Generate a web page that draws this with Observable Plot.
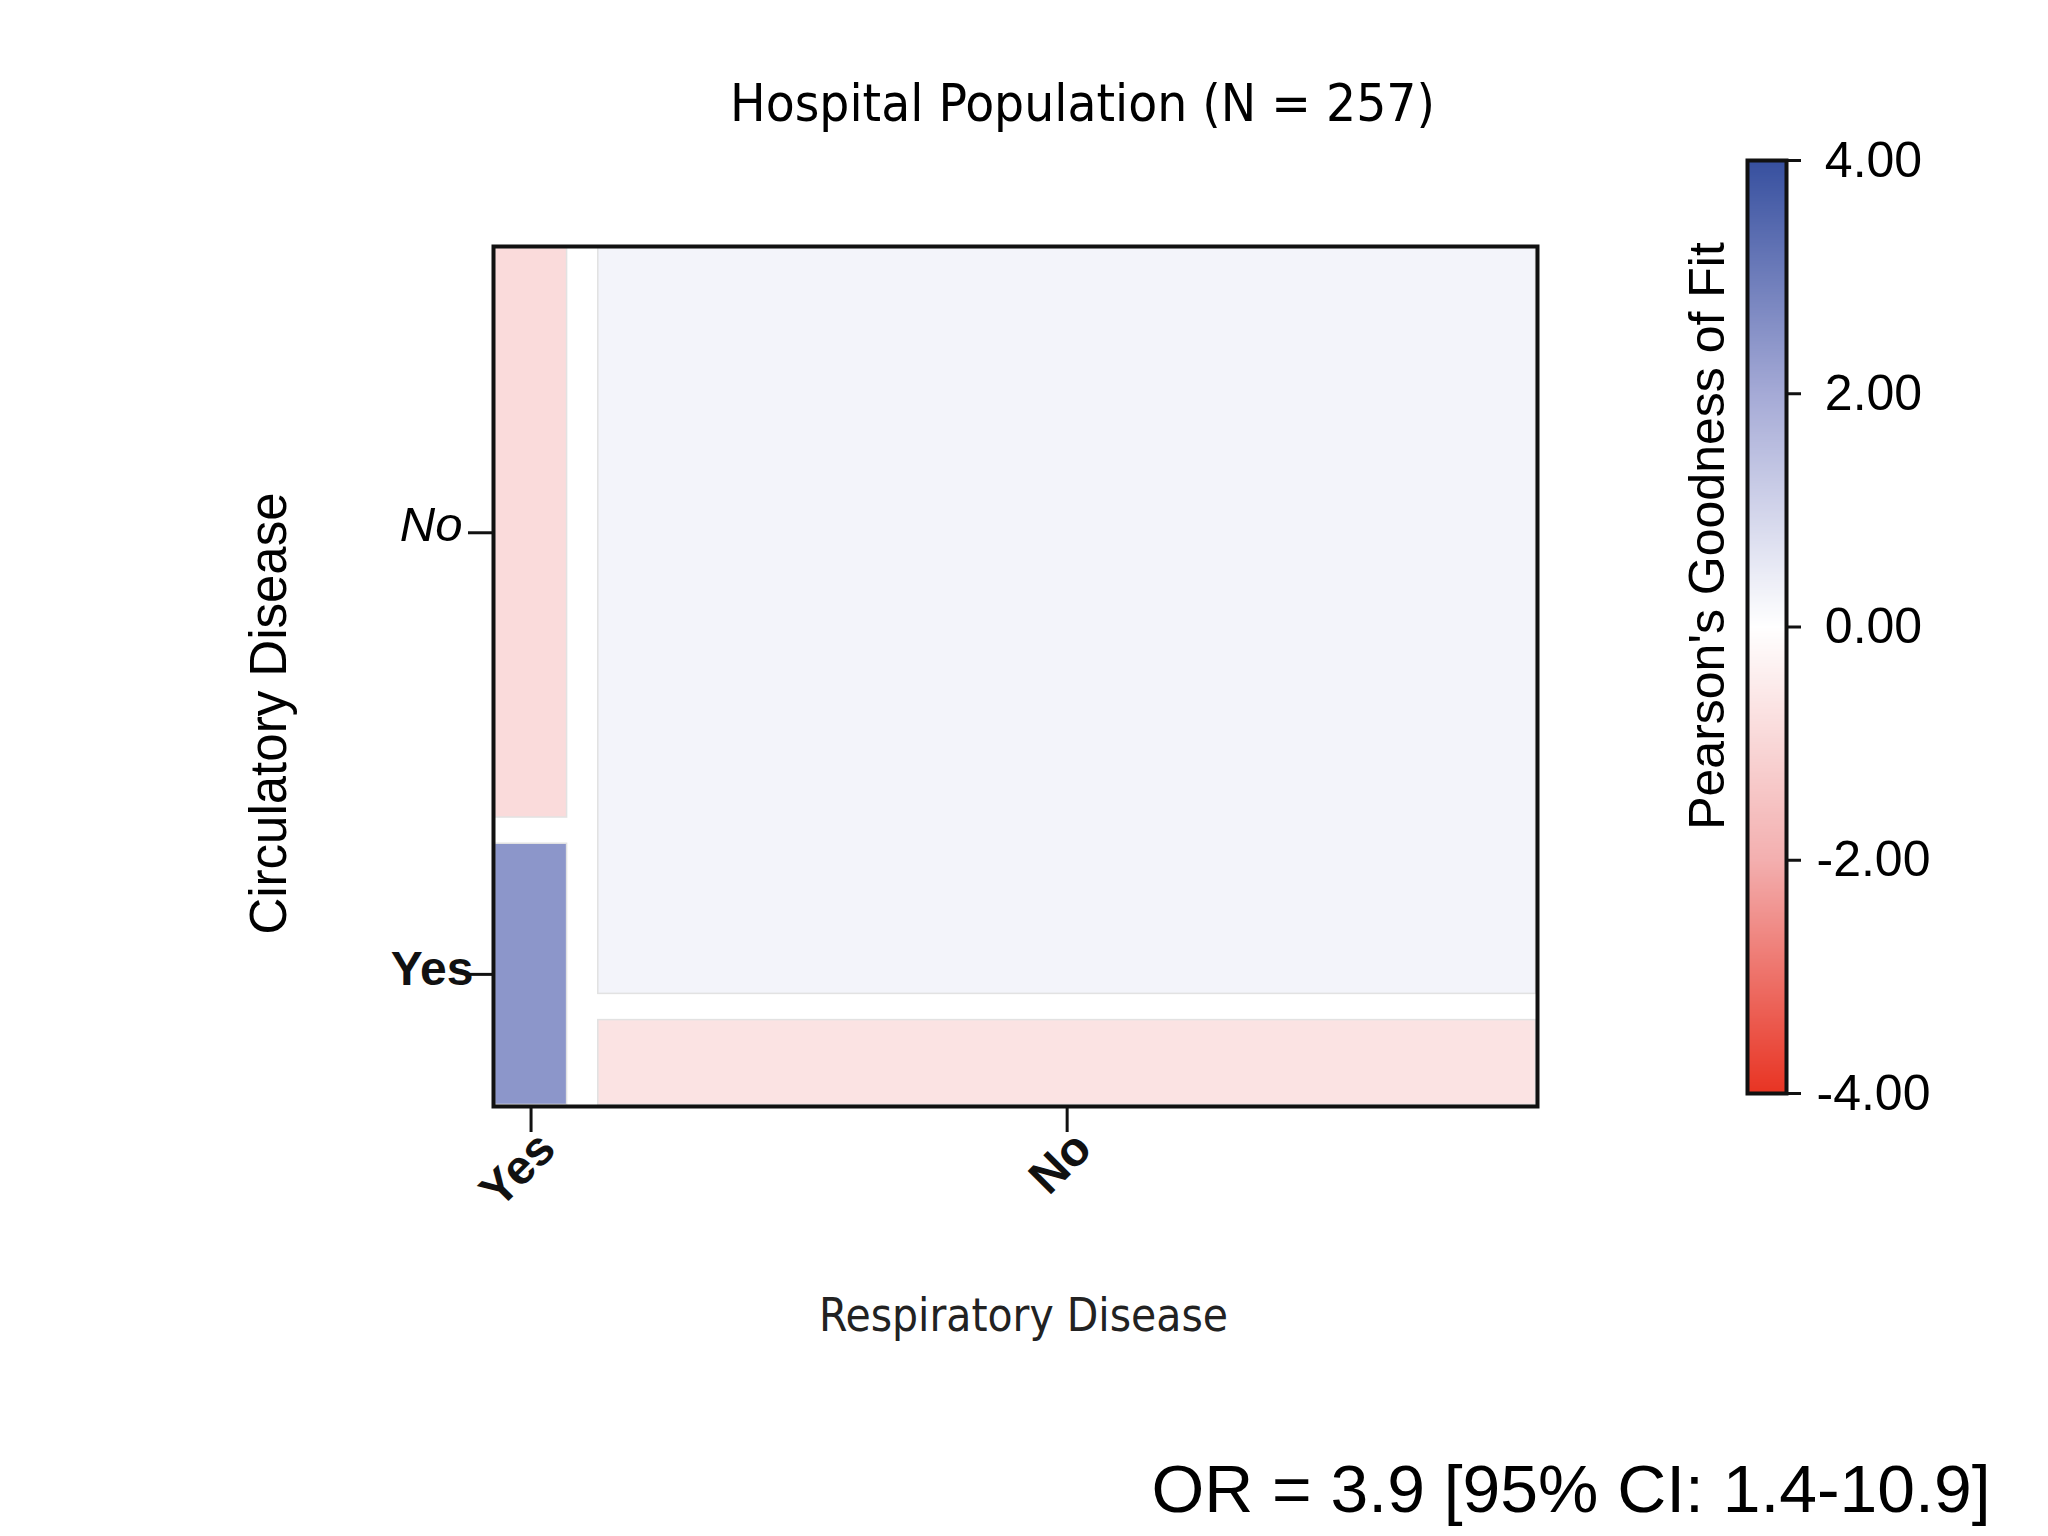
<!DOCTYPE html>
<html>
<head>
<meta charset="utf-8">
<script src="https://cdn.jsdelivr.net/npm/d3@7"></script>
<script src="https://cdn.jsdelivr.net/npm/@observablehq/plot@0.6"></script>
<style>
  html, body { margin: 0; padding: 0; background: #fff; }
  #wrap { position: relative; width: 2048px; height: 1536px; overflow: hidden; background: #fff; }
  #main { position: absolute; left: 0; top: 0; }
  #bar { position: absolute; left: 1680px; top: 100px; }
  svg { background: transparent !important; }
</style>
</head>
<body>
<div id="wrap"><div id="main"></div><div id="bar"></div></div>
<script>
// ---------- data ----------
const titleText = "Hospital Population (N = 257)";
const xTitle = "Respiratory Disease";
const yTitle = "Circulatory Disease";
const legendTitle = "Pearson's Goodness of Fit";
const oddsRatioText = "OR = 3.9 [95% CI: 1.4-10.9]";

const respiratory = ["Yes", "No"];          // columns (x)
const circulatory = ["Yes", "No"];          // rows (y), Yes at the bottom
// counts for each respiratory column, in circulatory order [Yes, No]
const countsRespYes = [6, 13];
const countsRespNo = [25, 213];
// Pearson residuals, same order
const residualsRespYes = [2.45, -0.91];
const residualsRespNo = [-0.69, 0.26];

const colorStops = [-4, -2, 0, 2, 4];
const colorRange = ["#e83423", "#f3afaf", "#ffffff", "#a5aad6", "#37509f"];
const colorTicks = [-4, -2, 0, 2, 4];

// ---------- mosaic layout (proportions) ----------
const GAP_X = 0.027, GAP_Y = 0.027;
const columns = [countsRespYes, countsRespNo];
const residuals = [residualsRespYes, residualsRespNo];
const total = d3.sum(columns.flat());
const cells = [];
let cx = 0;
respiratory.forEach((r, i) => {
  const colTotal = d3.sum(columns[i]);
  const w = colTotal / total * (1 - GAP_X);
  let cy = 0;
  circulatory.forEach((c, j) => {
    const h = columns[i][j] / colTotal * (1 - GAP_Y);
    cells.push({resp: r, circ: c, n: columns[i][j], residual: residuals[i][j],
                x1: cx, x2: cx + w, y1: cy, y2: cy + h});
    cy += h + GAP_Y;
  });
  cx += w + GAP_X;
});
const firstRow = cells.filter(d => d.circ === circulatory[0]);
const firstCol = cells.filter(d => d.resp === respiratory[0]);
const xTickPos = firstRow.map(d => (d.x1 + d.x2) / 2);
const xTickLabel = new Map(firstRow.map(d => [(d.x1 + d.x2) / 2, d.resp]));
const yNoPos = firstCol.filter(d => d.circ === "No").map(d => (d.y1 + d.y2) / 2);
const yYesPos = firstCol.filter(d => d.circ === "Yes").map(d => (d.y1 + d.y2) / 2);

const sans = "Liberation Sans, Arial, Helvetica, sans-serif";
const narrow = "Liberation Sans Narrow, DejaVu Sans Condensed, Liberation Sans, Arial, sans-serif";
const colorScale = {type: "linear", domain: colorStops, range: colorRange, interpolate: "rgb"};

const main = Plot.plot({
  width: 2048, height: 1536,
  marginLeft: 493, marginRight: 511, marginTop: 246, marginBottom: 430,
  style: {fontFamily: sans, color: "#000", background: "transparent"},
  x: {domain: [0, 1]},
  y: {domain: [0, 1]},
  color: colorScale,
  marks: [
    Plot.rect(cells, {x1: "x1", x2: "x2", y1: "y1", y2: "y2", fill: "residual",
                      inset: 1.5, stroke: "#e2e2e2", strokeWidth: 1.5}),
    Plot.frame({stroke: "#111", strokeWidth: 4}),
    // x ticks and labels
    Plot.axisX({ticks: xTickPos, tickSize: 26, fill: "none", stroke: "#111", strokeWidth: 3, label: null}),
    Plot.axisX({ticks: xTickPos, tickSize: 0, tickPadding: 34, tickRotate: -45,
                textAnchor: "end", lineAnchor: "middle", dx: 16,
                tickFormat: d => xTickLabel.get(d), fontSize: 48, fontWeight: "bold",
                fontFamily: sans, fill: "#111", label: null}),
    // y ticks and labels
    Plot.axisY({ticks: [...yNoPos, ...yYesPos], tickSize: 25, fill: "none", stroke: "#111", strokeWidth: 3, label: null}),
    Plot.axisY({ticks: yNoPos, tickSize: 0, tickPadding: 31, dy: -7,
                tickFormat: () => circulatory[1], fontSize: 49, fontStyle: "italic",
                fontFamily: sans, fill: "#000", label: null}),
    Plot.axisY({ticks: yYesPos, tickSize: 0, tickPadding: 20, dy: -5,
                tickFormat: () => circulatory[0], fontSize: 48, fontWeight: "bold",
                fontFamily: sans, fill: "#111", label: null}),
    // titles
    Plot.text([titleText], {frameAnchor: "top-left", dx: 589, dy: -126, textAnchor: "middle",
                lineAnchor: "bottom", fontSize: 52, fontFamily: narrow, fill: "#000"}),
    Plot.text([xTitle], {frameAnchor: "bottom-left", dx: 530, dy: 224, textAnchor: "middle",
                lineAnchor: "bottom", fontSize: 46, fontFamily: narrow, fill: "#222"}),
    Plot.text([yTitle], {frameAnchor: "left", dx: -208, dy: 37, rotate: -90, textAnchor: "middle",
                lineAnchor: "bottom", fontSize: 51, fontFamily: sans, fill: "#000"}),
    Plot.text([oddsRatioText], {frameAnchor: "bottom-left", dx: 658, dy: 405, textAnchor: "start",
                lineAnchor: "bottom", fontSize: 67, fontFamily: sans, fill: "#000"})
  ]
});
document.getElementById("main").appendChild(main);
// fit the condensed titles to the reference's widths
const fitWidths = new Map([[titleText, 705], [xTitle, 409], [oddsRatioText, 839]]);
d3.select(main).selectAll("text").each(function () {
  const w = fitWidths.get(this.textContent);
  if (w) d3.select(this).attr("textLength", w).attr("lengthAdjust", "spacingAndGlyphs");
});

// ---------- colour bar ----------
const bar = Plot.plot({
  width: 368, height: 1036,
  marginLeft: 67, marginRight: 262, marginTop: 60, marginBottom: 43,
  style: {fontFamily: sans, color: "#000", background: "transparent", overflow: "visible"},
  x: {domain: [0, 1], axis: null},
  y: {domain: [colorStops[0], colorStops[colorStops.length - 1]]},
  color: colorScale,
  marks: [
    Plot.raster({x1: 0, x2: 1, y1: colorStops[0], y2: colorStops[colorStops.length - 1],
                 fill: (x, y) => y, width: 1, height: 800}),
    Plot.frame({stroke: "#111", strokeWidth: 4}),
    Plot.axisY({anchor: "right", ticks: colorTicks, tickFormat: d => d.toFixed(2),
                tickSize: 14, tickPadding: 73, textAnchor: "middle",
                fontSize: 50, fontFamily: sans, stroke: "#111", strokeWidth: 3, fill: "#000", label: null}),
    Plot.text([legendTitle], {frameAnchor: "left", dx: -24, dy: -91, rotate: -90, textAnchor: "middle",
                lineAnchor: "bottom", fontSize: 50, fontFamily: sans, fill: "#000"})
  ]
});
document.getElementById("bar").appendChild(bar);
</script>
</body>
</html>
